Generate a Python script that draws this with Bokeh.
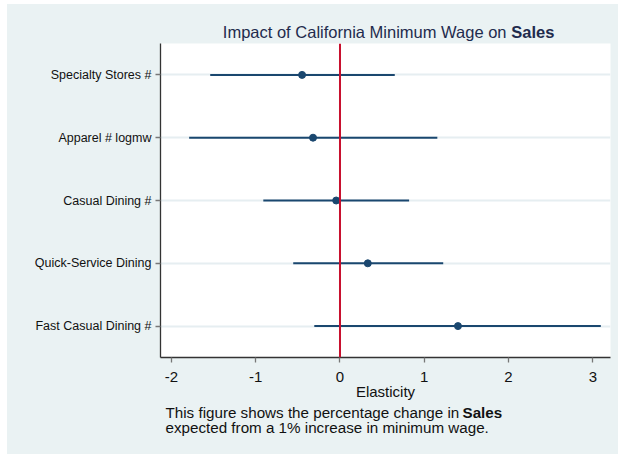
from bokeh.plotting import figure
from bokeh.models import Span, FixedTicker, ColumnDataSource, Range1d
from bokeh.layouts import column
from bokeh.core.properties import value
from bokeh.embed import file_html
from bokeh.resources import INLINE

# Data (top to bottom as shown)
categories = ["Specialty Stores #", "Apparel # logmw", "Casual Dining #",
              "Quick-Service Dining", "Fast Casual Dining #"]
estimates = [-0.45, -0.32, -0.045, 0.33, 1.40]
ci_low = [-1.54, -1.79, -0.91, -0.555, -0.305]
ci_high = [0.65, 1.155, 0.82, 1.225, 3.095]
x_ticks = [-2, -1, 0, 1, 2, 3]

title_parts = ["Impact of California Minimum Wage on", "Sales"]
caption_parts = ["This figure shows the percentage change in", "Sales",
                 "expected from a 1% increase in minimum wage."]

n = len(categories)
ypos = [n - i for i in range(n)]

src = ColumnDataSource(dict(cat=categories, est=estimates, lo=ci_low, hi=ci_high, y=ypos))

FONT = "Liberation Sans"
BG = "#EAF2F3"
NAVY = "#1A476F"
W = 611
BL, BR = 153, 8   # borders left / right (frame spans page x 160..610)


def text_fig(h, y0):
    f = figure(width=W, height=h, output_backend="svg", toolbar_location=None,
               x_range=Range1d(7 + BL, 7 + W - BR), y_range=Range1d(y0 + h, y0),
               x_axis_location=None, y_axis_location=None,
               min_border_left=BL, min_border_right=BR,
               min_border_top=0, min_border_bottom=0)
    f.background_fill_color = BG
    f.border_fill_color = BG
    f.outline_line_color = None
    f.grid.visible = False
    return f


# Title strip (page y 4..43)
tf = text_fig(39, 4)
TITLE_C = "#1f2b4d"
tf.text(x=[506], y=[31.5], text=[title_parts[0]], text_align="right",
        text_baseline="middle", text_font=value(FONT), text_font_size="16.5px",
        text_color=TITLE_C)
tf.text(x=[510.7], y=[31.5], text=[title_parts[1]], text_align="left",
        text_baseline="middle", text_font=value(FONT), text_font_size="16.5px",
        text_font_style="bold", text_color=TITLE_C)

# Main chart (page y 43..403)
p = figure(width=W, height=360, output_backend="svg", toolbar_location=None,
           x_range=(-2.13, 3.21), y_range=(0.5, 5.5),
           min_border_left=BL, min_border_right=BR, min_border_top=0, min_border_bottom=46)
p.border_fill_color = BG
p.background_fill_color = "white"
p.outline_line_color = None

p.xgrid.grid_line_color = None
p.ygrid.grid_line_color = "#E6EEF1"
p.ygrid.grid_line_width = 2

p.xaxis.ticker = FixedTicker(ticks=x_ticks)
p.xaxis.major_label_overrides = {t: str(t) for t in x_ticks}
p.yaxis.ticker = FixedTicker(ticks=ypos)
p.yaxis.major_label_overrides = {y: c for y, c in zip(ypos, categories)}
for ax in (p.xaxis[0], p.yaxis[0]):
    ax.axis_line_color = "#333333"
    ax.axis_line_width = 1.3
    ax.major_tick_line_color = "#777777"
    ax.major_tick_line_width = 1.3
    ax.major_tick_out = 5
    ax.major_tick_in = 0
    ax.minor_tick_line_color = None
    ax.major_label_text_font = FONT
    ax.major_label_text_color = "#111111"
p.xaxis.major_label_text_font_size = "15px"
p.xaxis.major_label_standoff = 9
p.yaxis.major_label_text_font_size = "12.5px"
p.yaxis.major_label_standoff = 4
p.xaxis.axis_label = "Elasticity"
p.xaxis.axis_label_text_font = FONT
p.xaxis.axis_label_text_font_size = "15px"
p.xaxis.axis_label_text_font_style = "normal"
p.xaxis.axis_label_text_color = "#111111"
p.xaxis.axis_label_standoff = -2

p.add_layout(Span(location=0, dimension="height", line_color="#C8102E", line_width=2))

p.segment(x0="lo", x1="hi", y0="y", y1="y", source=src, line_color=NAVY, line_width=2)
p.scatter(x="est", y="y", source=src, size=7, fill_color=NAVY, line_color=NAVY)

# Caption strip (page y 403..454)
cf = text_fig(51, 403)
CAP_C = "#111111"
cf.text(x=[165], y=[412], text=[caption_parts[0]], text_align="left",
        text_baseline="middle", text_font=value(FONT), text_font_size="15.2px",
        text_color=CAP_C)
cf.text(x=[462], y=[412], text=[caption_parts[1]], text_align="left",
        text_baseline="middle", text_font=value(FONT), text_font_size="15.2px",
        text_font_style="bold", text_color=CAP_C)
cf.text(x=[165], y=[427], text=[caption_parts[2]], text_align="left",
        text_baseline="middle", text_font=value(FONT), text_font_size="15.2px",
        text_color=CAP_C)

layout = column(tf, p, cf, spacing=0, margin=(4, 0, 0, 7),
                styles={"background-color": BG})

open("out.html", "w").write(file_html(layout, INLINE))
